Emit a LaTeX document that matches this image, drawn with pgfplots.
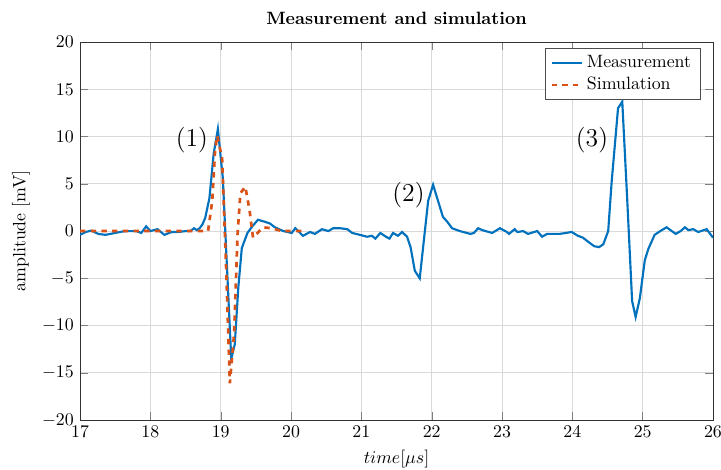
\documentclass[border=0pt]{standalone}
\usepackage{pgfplots}
\pgfplotsset{compat=1.18}
\definecolor{mblue}{rgb}{0,0.447,0.741}
\definecolor{morange}{rgb}{0.85,0.325,0.098}
\begin{document}
\begin{tikzpicture}
\begin{axis}[
  scale only axis,
  width=355pt, height=212pt,
  xmin=17, xmax=26, ymin=-20, ymax=20,
  xtick={17,18,...,26},
  ytick={-20,-15,...,20},
  grid=major,
  major grid style={black!15},
  tick align=inside,
  axis line style={black!80},
  title={\textbf{Measurement and simulation}},
  xlabel={$time[\mu s]$},
  ylabel={amplitude [mV]},
  legend style={at={(0.98,0.985)}, anchor=north east, draw=black!70, font=\normalsize},
  legend cell align=left,
]
\addplot[mblue, line width=1.2pt] coordinates {
(17.00,-0.4) (17.08,-0.1) (17.16,0.05) (17.26,-0.3) (17.36,-0.4) (17.50,-0.2)
(17.60,-0.05) (17.68,0.0) (17.80,0.0) (17.87,-0.2) (17.94,0.5) (18.00,0.0)
(18.10,0.2) (18.20,-0.4) (18.30,-0.1) (18.40,-0.1) (18.50,0.0) (18.57,0.0)
(18.62,0.3) (18.66,0.1) (18.70,0.3) (18.74,0.7) (18.78,1.4) (18.84,3.5)
(18.90,8.2) (18.96,10.8) (19.03,5.6) (19.15,-13.5) (19.20,-12.0) (19.25,-6.0)
(19.30,-1.8) (19.38,-0.2) (19.45,0.5) (19.53,1.2) (19.62,1.0) (19.70,0.8)
(19.77,0.4) (19.89,0.0) (20.01,-0.2) (20.06,0.3) (20.17,-0.5) (20.27,-0.1)
(20.34,-0.3) (20.44,0.2) (20.53,0.0) (20.60,0.3) (20.70,0.3) (20.80,0.2)
(20.87,-0.2) (20.98,-0.4) (21.08,-0.6) (21.15,-0.5) (21.20,-0.8) (21.27,-0.2)
(21.35,-0.6) (21.40,-0.8) (21.45,-0.2) (21.52,-0.5) (21.58,-0.1) (21.65,-0.6)
(21.70,-1.7) (21.76,-4.2) (21.83,-5.0) (21.95,3.2) (22.02,4.9) (22.16,1.5)
(22.22,1.0) (22.29,0.3) (22.40,0.0) (22.55,-0.3) (22.60,-0.2) (22.66,0.3)
(22.72,0.1) (22.86,-0.2) (22.97,0.3) (23.07,-0.1) (23.10,-0.3) (23.18,0.2)
(23.22,-0.1) (23.30,0.0) (23.37,-0.3) (23.50,0.0) (23.57,-0.6) (23.64,-0.3)
(23.82,-0.3) (23.99,-0.1) (24.08,-0.5) (24.15,-0.7) (24.22,-1.1) (24.31,-1.6)
(24.38,-1.7) (24.44,-1.4) (24.51,0.0) (24.56,5.3) (24.65,13.0) (24.71,13.7)
(24.78,3.4) (24.85,-7.4) (24.90,-9.1) (24.96,-7.1) (25.03,-3.1) (25.08,-1.9)
(25.17,-0.4) (25.25,0.0) (25.34,0.4) (25.47,-0.3) (25.54,0.0) (25.60,0.4)
(25.65,0.1) (25.72,0.2) (25.79,-0.1) (25.91,0.2) (26.00,-0.7)
};
\addlegendentry{Measurement}
\addplot[morange, line width=1.5pt, dashed] coordinates {
(17.00,0) (18.82,0) (18.88,3.2) (18.92,8.5) (18.95,10.1) (19.02,7.7)
(19.08,-4.5) (19.13,-16.1) (19.19,-10.9) (19.24,-0.3) (19.28,4.0) (19.35,4.7)
(19.41,2.2) (19.46,-0.7) (19.60,0.4) (19.72,0.3) (19.87,0.0) (20.15,0.0)
};
\addlegendentry{Simulation}
\node[font=\Large] at (axis cs:18.59,9.6) {(1)};
\node[font=\Large] at (axis cs:21.67,3.8) {(2)};
\node[font=\Large] at (axis cs:24.28,9.6) {(3)};
\end{axis}
\pgfresetboundingbox
\path ([shift={(-44.9pt,-27.5pt)}]current axis.south west) rectangle ([shift={(4.5pt,23.6pt)}]current axis.north east);
\end{tikzpicture}
\end{document}
